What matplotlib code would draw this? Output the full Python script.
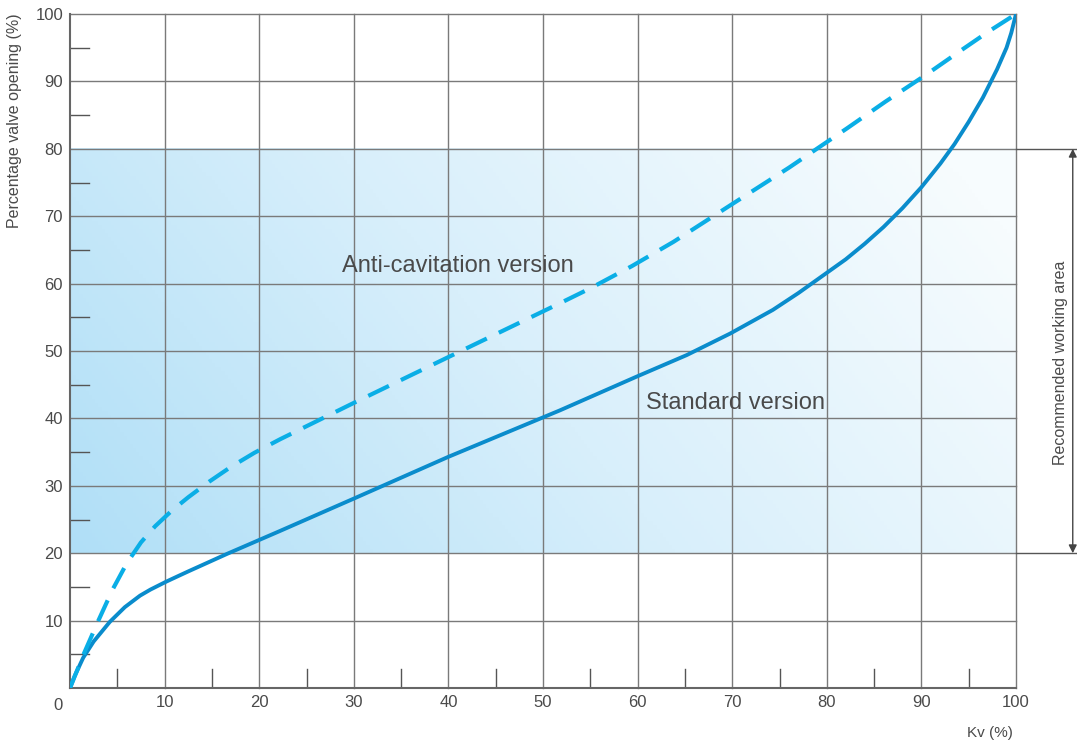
import numpy as np
import matplotlib.pyplot as plt
from matplotlib.colors import LinearSegmentedColormap

# Data (Kv %, valve opening %)
std_kv = [0, 0.5, 1.4, 2.5, 4.2, 5.8, 7.4, 8.5, 10.2, 11.5, 12.5, 16.6, 22.2, 30, 40, 51.8,
          59.9, 65.2, 69.8, 74.3, 77, 80, 82, 84, 86, 88, 90, 92, 93.5, 95, 96.5, 98, 99, 99.5, 100]
std_open = [0, 1.8, 4.5, 6.9, 9.8, 12.0, 13.7, 14.6, 15.8, 16.65, 17.3, 19.9, 23.3, 28.1, 34.3, 41.2,
            46.2, 49.4, 52.6, 56.1, 58.6, 61.6, 63.6, 65.9, 68.4, 71.2, 74.3, 77.8, 80.7, 84.0,
            87.6, 91.8, 95.0, 97.2, 100]
anti_kv = [0, 1.5, 3.0, 4.5, 6.0, 7.5, 9.0, 10.75, 12.5, 14.7, 17.0, 19.5, 22.2, 30, 40,
           52.1, 55.0, 59.4, 63.8, 70, 76, 82.1, 86.2, 90.4, 94.5, 97.1, 100]
anti_open = [0, 5.2, 10.0, 14.6, 18.5, 21.6, 24.0, 26.3, 28.3, 30.6, 32.8, 34.9, 36.9, 42.3, 49.1,
             57.3, 59.3, 62.6, 66.2, 71.8, 77.2, 83.0, 87.0, 90.9, 94.9, 97.4, 100]
area_lo, area_hi = 20, 80
x_ticks = [10, 20, 30, 40, 50, 60, 70, 80, 90, 100]
y_ticks = [10, 20, 30, 40, 50, 60, 70, 80, 90, 100]

plt.rcParams['font.family'] = ['Liberation Sans', 'DejaVu Sans']
txt = '#4a4a4a'
grid_c = '#7a7a7a'

fig = plt.figure(figsize=(10.77, 7.48), dpi=100)
ax = fig.add_axes([70 / 1077, 60 / 748, 946 / 1077, 674 / 748])
ax.set_xlim(0, 100)
ax.set_ylim(0, 100)

# gradient for recommended working area
gx, gy = np.meshgrid(np.linspace(0, 1, 300), np.linspace(0, 1, 100))
g = np.clip(0.78 * gx + 0.28 * gy, 0, 1)
cmap = LinearSegmentedColormap.from_list('area', ['#b0dff7', '#d8effb', '#f7fcfe'])
ax.imshow(g, cmap=cmap, extent=(0, 100, area_lo, area_hi), origin='lower',
          aspect='auto', zorder=0, vmin=0, vmax=1)

# grid
for v in x_ticks:
    ax.axvline(v, color=grid_c, lw=1.0, zorder=1, clip_on=False)
for v in y_ticks:
    ax.axhline(v, color=grid_c, lw=1.0, zorder=1, clip_on=False)

# minor inner ticks
for v in range(5, 100, 10):
    ax.plot([v, v], [0, 2.8], color='#555555', lw=1.0, zorder=1)
    ax.plot([0, 2.0], [v, v], color='#555555', lw=1.0, zorder=1)

ax.plot(std_kv, std_open, color='#0a8ccc', lw=2.8, zorder=3,
        solid_capstyle='round', solid_joinstyle='round')
ax.plot(anti_kv, anti_open, color='#0aaee6', lw=3.0, zorder=3, dashes=(5.5, 3.2))

ax.text(41.0, 62.6, 'Anti-cavitation version', fontsize=17, color=txt, ha='center', va='center', zorder=4)
ax.text(70.3, 42.3, 'Standard version', fontsize=17, color=txt, ha='center', va='center', zorder=4)

# bracket for recommended working area
xb = 106.0
ax.plot([100, 106.3], [area_hi, area_hi], color='#555555', lw=1.0, clip_on=False)
ax.plot([100, 106.3], [area_lo, area_lo], color='#555555', lw=1.0, clip_on=False)
ax.annotate('', xy=(xb, area_hi), xytext=(xb, area_lo),
            arrowprops=dict(arrowstyle='<|-|>', color='#444444', lw=1.0,
                            mutation_scale=12, shrinkA=0, shrinkB=0),
            annotation_clip=False)
ax.text(104.7, 48.2, 'Recommended working area', rotation=90, fontsize=11.5,
        color=txt, ha='center', va='center', clip_on=False)

for s in ['top', 'right']:
    ax.spines[s].set_visible(False)
for s in ['left', 'bottom']:
    ax.spines[s].set_color('#666666')
    ax.spines[s].set_linewidth(1.5)
    ax.spines[s].set_zorder(2)

ax.set_xticks(x_ticks)
ax.set_yticks(y_ticks)
ax.tick_params(length=0, labelsize=12, labelcolor=txt, pad=5)
ax.text(-1.3, -1.5, '0', fontsize=12, color=txt, ha='center', va='top')

fig.text(990 / 1077, 1 - 733 / 748, 'Kv (%)', fontsize=11, color=txt, ha='center', va='center')
fig.text(15 / 1077, 1 - 121 / 748, 'Percentage valve opening (%)', fontsize=11.5, color=txt,
         rotation=90, ha='center', va='center')

fig.savefig('out.png', dpi=100)
